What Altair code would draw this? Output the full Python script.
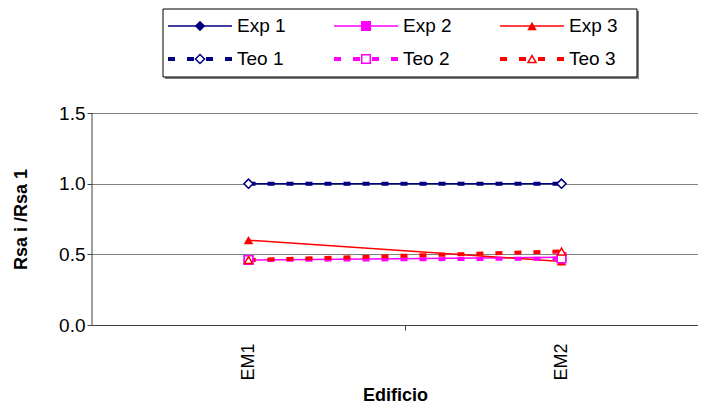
import altair as alt
import pandas as pd

# ---------------- data ----------------
buildings = ["EM1", "EM2"]
series = ["Exp 1", "Exp 2", "Exp 3", "Teo 1", "Teo 2", "Teo 3"]
exp1 = [1.00, 1.00]
exp2 = [0.46, 0.48]
exp3 = [0.60, 0.45]
teo1 = [1.00, 1.00]
teo2 = [0.46, 0.47]
teo3 = [0.46, 0.52]
y_ticks = [0.0, 0.5, 1.0, 1.5]
x_ticks = [1, 1.5, 2]

colors = ["#000080", "#FF00FF", "#FF0000"] * 2
shapes = ["diamond", "square", "triangle-up"] * 2
sizes_filled = [110, 64, 100] * 2
sizes_open = [85, 64, 110] * 2

values = [exp1, exp2, exp3, teo1, teo2, teo3]
rows = []
for s, vals in zip(series, values):
    for i, (b, v) in enumerate(zip(buildings, vals)):
        rows.append({"series": s, "building": b, "x": i + 1, "y": v,
                     "kind": s.split()[0]})
df = pd.DataFrame(rows)
exp_df = df[df.kind == "Exp"]
teo_df = df[df.kind == "Teo"]

# ---------------- layout (pixels) ----------------
PLOT_W, PLOT_H = 606, 316
PX_PER_X = 313.0             # one building step
PX_PER_Y = 212.0 / 1.5       # 0 -> 1.5 spans 212 px
X_MIN = 0.5
X_MAX = X_MIN + PLOT_W / PX_PER_X
Y_MAX = PLOT_H / PX_PER_Y
LEFT, TOP = 92, 8            # page position of plot origin


def px2x(px):
    return X_MIN + (px - LEFT) / PX_PER_X


def px2y(py):
    return (TOP + PLOT_H - py) / PX_PER_Y


FONT = "Liberation Sans"

x_axis = alt.Axis(
    values=x_ticks,
    labelExpr="datum.value == 1 ? 'EM1' : (datum.value == 2 ? 'EM2' : '')",
    labelAngle=270, labelFontSize=18, labelFont=FONT, labelColor="black",
    labelPadding=13, tickSize=5, tickColor="#404040",
    tickOpacity={"condition": {"test": "datum.value == 1.5", "value": 1}, "value": 0},
    domainColor="#404040", grid=False,
    title="Edificio", titleFont=FONT, titleFontSize=18, titleFontWeight="bold",
    titleColor="black", titlePadding=6,
)
y_axis = alt.Axis(
    values=y_ticks, format=".1f", grid=True, gridColor="#808080", gridWidth=1,
    domain=False, tickSize=5, tickColor="#404040",
    labelFontSize=19, labelFont=FONT, labelColor="black", labelPadding=2,
    title="Rsa i /Rsa 1", titleFont=FONT, titleFontSize=18, titleFontWeight="bold",
    titleColor="black", titleX=-71, titleY=(324 - TOP) - 106, titleAngle=270,
    titleBaseline="middle", titleAlign="center",
)
xs = alt.Scale(domain=[X_MIN, X_MAX], nice=False, zero=False)
ys = alt.Scale(domain=[0, Y_MAX], nice=False, zero=False)
X = alt.X("x:Q", scale=xs, axis=x_axis, title="Edificio")
Y = alt.Y("y:Q", scale=ys, axis=y_axis, title="Rsa i /Rsa 1")

cscale = alt.Scale(domain=series, range=colors)
sscale = alt.Scale(domain=series, range=shapes)
col = alt.Color("series:N", scale=cscale, legend=None)
stk = alt.Stroke("series:N", scale=cscale, legend=None)
shp = alt.Shape("series:N", scale=sscale, legend=None)
sz_f = alt.Size("series:N", scale=alt.Scale(domain=series, range=sizes_filled), legend=None)
sz_o = alt.Size("series:N", scale=alt.Scale(domain=series, range=sizes_open), legend=None)

# y axis line from 0 to 1.5
axis_df = pd.DataFrame({"x": [X_MIN], "y": [y_ticks[0]], "y2": [y_ticks[-1]]})
y_line = alt.Chart(axis_df).mark_rule(color="#404040", strokeWidth=1).encode(
    x=X, y=Y, y2="y2:Q")

exp_lines = alt.Chart(exp_df).mark_line(strokeWidth=1.5).encode(x=X, y=Y, color=col)
teo_lines = alt.Chart(teo_df).mark_line(strokeWidth=4, strokeDash=[7, 12], strokeCap="butt").encode(
    x=X, y=Y, color=col)
exp_pts = alt.Chart(exp_df).mark_point(filled=True, opacity=1).encode(
    x=X, y=Y, color=col, shape=shp, size=sz_f)
teo_pts = alt.Chart(teo_df).mark_point(filled=True, opacity=1, strokeWidth=1.5).encode(
    x=X, y=Y, stroke=stk, fill=alt.value("white"), shape=shp, size=sz_o)

# ---------------- manual legend ----------------
leg = pd.DataFrame({"series": series})
leg["col"] = [i % 3 for i in range(len(series))]
leg["row"] = [i // 3 for i in range(len(series))]
leg["kind"] = [s.split()[0] for s in series]
leg["x"] = px2x(168 + 166 * leg["col"])
leg["x2"] = px2x(168 + 64 + 166 * leg["col"])
leg["xm"] = px2x(168 + 32 + 166 * leg["col"])
leg["xt"] = px2x(168 + 69 + 166 * leg["col"])
leg["y"] = px2y(25 + 33 * leg["row"])
leg_exp = leg[leg.kind == "Exp"]
leg_teo = leg[leg.kind == "Teo"]

box = pd.DataFrame({"x": [px2x(163)], "x2": [px2x(637)], "y": [px2y(8)], "y2": [px2y(76)]})
shadow = pd.DataFrame({"x": [px2x(165)], "x2": [px2x(639)], "y": [px2y(10)], "y2": [px2y(78)]})

shadow_rect = alt.Chart(shadow).mark_rect(color="#808080").encode(
    x=X, x2="x2:Q", y=Y, y2="y2:Q")
box_rect = alt.Chart(box).mark_rect(fill="white", stroke="black", strokeWidth=1).encode(
    x=X, x2="x2:Q", y=Y, y2="y2:Q")
leg_exp_line = alt.Chart(leg_exp).mark_rule(strokeWidth=1.5).encode(
    x=X, x2="x2:Q", y=Y, color=col)
leg_teo_line = alt.Chart(leg_teo).mark_rule(strokeWidth=4, strokeDash=[7, 12], strokeCap="butt").encode(
    x=X, x2="x2:Q", y=Y, color=col)
leg_exp_pt = alt.Chart(leg_exp).mark_point(filled=True, opacity=1).encode(
    x=alt.X("xm:Q", scale=xs, axis=x_axis, title="Edificio"), y=Y, color=col, shape=shp, size=sz_f)
leg_teo_pt = alt.Chart(leg_teo).mark_point(filled=True, opacity=1, strokeWidth=1.5).encode(
    x=alt.X("xm:Q", scale=xs, axis=x_axis, title="Edificio"), y=Y, stroke=stk,
    fill=alt.value("white"), shape=shp, size=sz_o)
leg_text = alt.Chart(leg).mark_text(align="left", baseline="middle", fontSize=19,
                                    font=FONT, color="black").encode(
    x=alt.X("xt:Q", scale=xs, axis=x_axis, title="Edificio"), y=Y, text="series:N")

chart = alt.layer(
    y_line, exp_lines, teo_lines, exp_pts, teo_pts,
    shadow_rect, box_rect, leg_exp_line, leg_teo_line, leg_exp_pt, leg_teo_pt, leg_text,
).properties(
    width=PLOT_W, height=PLOT_H,
    padding={"left": 4, "top": 0, "right": 0, "bottom": 0},
    background="white",
).configure_view(stroke=None)

chart.save("out.html", embed_options={"renderer": "svg", "actions": False})
